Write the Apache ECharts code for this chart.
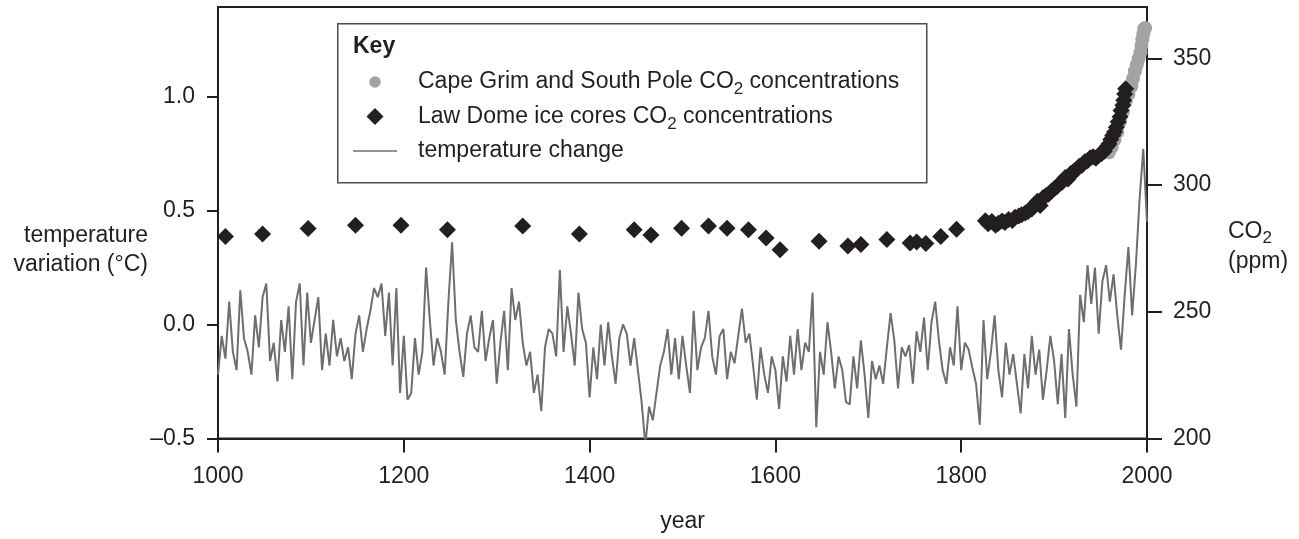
<!DOCTYPE html>
<html>
<head>
<meta charset="utf-8">
<title>Temperature variation and CO2, 1000-2000</title>
<script src="https://cdn.jsdelivr.net/npm/echarts@6/dist/echarts.min.js"></script>
<style>
  html, body { margin: 0; padding: 0; background: #fff; }
  #chart { width: 1299px; height: 539px; }
</style>
</head>
<body>
<div id="chart"></div>
<script>
// temperature change (°C), one reading every 4 years from 1000 to 2000
var tempStart = 1000
var tempStep = 4
var tempValues = [
  -0.22, -0.05, -0.15, 0.10, -0.12, -0.20, 0.15, -0.06, -0.12, -0.22, // 1000
  0.04, -0.10, 0.12, 0.18, -0.16, -0.08, -0.25, 0.02, -0.12, 0.08, // 1040
  -0.24, 0.10, 0.18, -0.18, 0.14, -0.08, 0.02, 0.12, -0.20, -0.04, // 1080
  -0.18, 0.02, -0.14, -0.06, -0.16, -0.10, -0.24, -0.04, 0.04, -0.12, // 1120
  -0.02, 0.06, 0.16, 0.12, 0.18, -0.05, 0.14, -0.18, 0.16, -0.30, // 1160
  -0.05, -0.33, -0.30, -0.06, -0.22, -0.12, 0.25, 0.02, -0.18, -0.06, // 1200
  -0.12, -0.22, 0.10, 0.36, 0.02, -0.12, -0.23, -0.04, 0.04, -0.10, // 1240
  -0.12, 0.06, -0.16, -0.06, 0.02, -0.26, -0.08, 0.06, -0.20, 0.16, // 1280
  0.02, 0.10, -0.08, -0.18, -0.12, -0.30, -0.22, -0.38, -0.10, -0.02, // 1320
  -0.04, -0.14, 0.24, -0.12, 0.08, -0.04, -0.18, 0.14, -0.02, -0.08, // 1360
  -0.32, -0.10, -0.24, 0.00, -0.18, 0.01, -0.14, -0.26, -0.06, 0.00, // 1400
  -0.04, -0.18, -0.06, -0.20, -0.34, -0.53, -0.36, -0.42, -0.30, -0.18, // 1440
  -0.12, -0.02, -0.22, -0.06, -0.24, -0.05, -0.18, -0.30, 0.06, -0.20, // 1480
  -0.10, -0.06, 0.06, -0.14, -0.22, -0.05, -0.02, -0.24, -0.12, -0.17, // 1520
  -0.05, 0.07, -0.08, -0.04, -0.18, -0.33, -0.10, -0.22, -0.30, -0.14, // 1560
  -0.20, -0.37, -0.14, -0.25, -0.05, -0.22, -0.02, -0.20, -0.08, -0.12, // 1600
  0.14, -0.45, -0.12, -0.22, 0.01, -0.12, -0.28, -0.14, -0.20, -0.34, // 1640
  -0.35, -0.14, -0.28, -0.07, -0.22, -0.41, -0.16, -0.24, -0.18, -0.26, // 1680
  -0.10, 0.05, -0.07, -0.28, -0.10, -0.14, -0.09, -0.26, -0.03, -0.12, // 1720
  0.03, -0.20, 0.01, 0.10, -0.07, -0.20, -0.26, -0.10, -0.18, 0.08, // 1760
  -0.20, -0.08, -0.11, -0.19, -0.26, -0.44, 0.02, -0.24, -0.12, 0.04, // 1800
  -0.20, -0.32, -0.08, -0.22, -0.13, -0.26, -0.39, -0.13, -0.28, -0.05, // 1840
  -0.22, -0.11, -0.33, -0.20, -0.05, -0.16, -0.35, -0.13, -0.41, -0.02, // 1880
  -0.22, -0.36, 0.13, 0.01, 0.26, 0.09, 0.25, -0.04, 0.19, 0.26, // 1920
  0.10, 0.22, 0.04, -0.11, 0.13, 0.34, 0.04, 0.26, 0.55, 0.77, // 1960
  0.45 // 2000
]

// Law Dome ice cores CO2 (ppm): [year, ppm]
var lawDome = [
  [1008, 279.7], [1048, 280.7], [1097, 282.9], [1148, 284.2], [1197, 284.2],
  [1247, 282.4], [1328, 283.9], [1389, 280.7], [1448, 282.4], [1466, 280.3],
  [1499, 283.0], [1528, 283.9], [1548, 283.0], [1571, 282.4], [1590, 279.1],
  [1605, 274.5], [1647, 277.8], [1678, 276.0], [1692, 276.6], [1720, 278.5],
  [1745, 277.2], [1752, 277.6], [1762, 277.0], [1778, 279.7], [1795, 282.6],
  [1826, 285.9], [1829, 284.8], [1833, 285.6], [1837, 284.2], [1840, 285.0],
  [1844, 285.8], [1847, 285.2], [1851, 286.4], [1855, 286.0], [1858, 287.3],
  [1862, 287.8], [1865, 288.3], [1869, 289.0], [1872, 289.6], [1876, 290.6],
  [1879, 292.4], [1882, 293.6], [1885, 292.0], [1888, 295.0], [1891, 295.8],
  [1894, 296.4], [1897, 297.6], [1900, 298.6], [1903, 299.4], [1906, 300.6],
  [1909, 301.2], [1912, 303.0], [1915, 302.4], [1918, 304.6], [1921, 305.4],
  [1924, 306.0], [1927, 307.4], [1930, 307.8], [1933, 309.2], [1936, 309.6],
  [1939, 310.8], [1942, 311.2], [1945, 310.6], [1948, 311.8], [1951, 312.4],
  [1954, 313.4], [1957, 315.2], [1959, 316.2], [1961, 318.0], [1963, 319.6],
  [1965, 321.0], [1967, 322.8], [1969, 325.0], [1971, 327.0], [1972, 329.5],
  [1974, 331.5], [1975, 333.5], [1976, 336.0], [1977, 338.0]
]

// Cape Grim and South Pole CO2 (ppm): [year, ppm]
var capeGrim = [
  [1959, 313.0], [1962, 315.0], [1965, 318.0], [1968, 321.0], [1971, 325.0],
  [1974, 329.0], [1977, 333.0], [1980, 336.0], [1983, 339.0], [1985, 342.0],
  [1987, 345.0], [1989, 347.5], [1991, 350.0], [1993, 352.5], [1994, 355.0],
  [1995, 357.5], [1996, 359.5], [1997, 361.5], [1998, 362.0]
]

var yearTicks = [1000, 1200, 1400, 1600, 1800, 2000]
var tempTicks = [-0.5, 0, 0.5, 1.0]
var co2Ticks = [200, 250, 300, 350]

var capeName = 'Cape Grim and South Pole CO2 concentrations'
var lawName = 'Law Dome ice cores CO2 concentrations'
var tempName = 'temperature change'

var tempData = tempValues.map(function (v, i) {
  return [tempStart + i * tempStep, v]
})

var FONT = '"Liberation Sans", Arial, Helvetica, sans-serif'
var INK = '#231f20'
var GREY_LINE = '#6d6e71'
var GREY_DOT = '#a2a3a5'

var axisLine = { show: true, onZero: false, lineStyle: { color: INK, width: 2 } }
var labelFont = { fontSize: 23, color: INK, fontFamily: FONT }

var chart = echarts.init(document.getElementById('chart'))
chart.setOption({
  animation: false,
  textStyle: { fontFamily: FONT },
  grid: {
    show: true,
    left: 218,
    right: 152,
    top: 7,
    bottom: 100.5,
    borderColor: INK,
    borderWidth: 2
  },
  xAxis: {
    type: 'value',
    min: 1000,
    max: 2000,
    interval: 200,
    name: 'year',
    nameLocation: 'middle',
    nameGap: 72,
    nameTextStyle: labelFont,
    axisLine: axisLine,
    axisTick: { length: 14, lineStyle: { color: INK, width: 2 }, customValues: yearTicks },
    axisLabel: Object.assign({
      margin: 27,
      customValues: yearTicks,
      formatter: function (v) { return String(v) }
    }, labelFont),
    splitLine: { show: false }
  },
  yAxis: [
    {
      type: 'value',
      position: 'left',
      min: -0.5,
      max: 1.3925,
      axisLine: axisLine,
      axisTick: { show: true, length: 11, lineStyle: { color: INK, width: 2 }, customValues: tempTicks },
      axisLabel: Object.assign({
        margin: 23,
        customValues: tempTicks,
        formatter: function (v) { return v.toFixed(1).replace('-', '\u2013') }
      }, labelFont),
      splitLine: { show: false }
    },
    {
      type: 'value',
      position: 'right',
      min: 200,
      max: 370.3,
      axisLine: axisLine,
      axisTick: { show: true, length: 15, lineStyle: { color: INK, width: 2 }, customValues: co2Ticks },
      axisLabel: Object.assign({ margin: 26, customValues: co2Ticks }, labelFont),
      splitLine: { show: false }
    }
  ],
  legend: {
    orient: 'vertical',
    left: 353,
    top: 66,
    padding: 0,
    itemGap: 2.5,
    itemWidth: 44,
    itemHeight: 17,
    z: 10,
    selectedMode: false,
    data: [
      { name: capeName, icon: 'circle', itemStyle: { color: GREY_DOT, opacity: 1, borderColor: '#fff', borderWidth: 5.5 } },
      { name: lawName, icon: 'path://M0,-8L8,0L0,8L-8,0Z', itemStyle: { color: INK, opacity: 1, borderWidth: 0 } },
      { name: tempName, icon: 'path://M0,0H44V1.6H0Z', itemStyle: { color: GREY_LINE, opacity: 1, borderWidth: 0 } }
    ],
    formatter: function (name) { return name.replace('CO2', 'CO{sub|2}') },
    textStyle: {
      fontSize: 23,
      color: INK,
      fontFamily: FONT,
      lineHeight: 32,
      padding: [0, 0, 0, 16],
      rich: {
        sub: { fontSize: 17, lineHeight: 16, verticalAlign: 'bottom', color: INK, fontFamily: FONT }
      }
    }
  },
  graphic: [
    {
      type: 'rect',
      left: 337,
      top: 23,
      z: 3,
      shape: { width: 589, height: 159 },
      style: { fill: '#fff', stroke: '#4d4d4f', lineWidth: 1.5 }
    },
    {
      type: 'text',
      x: 353,
      y: 47,
      z: 11,
      style: { text: 'Key', font: 'bold 23px ' + FONT, fill: INK, verticalAlign: 'middle' }
    },
    {
      type: 'text',
      x: 148,
      y: 250,
      z: 11,
      style: {
        text: 'temperature\nvariation (°C)',
        font: '23px ' + FONT,
        fill: INK,
        align: 'right',
        verticalAlign: 'middle',
        lineHeight: 29
      }
    },
    {
      type: 'text',
      x: 1228,
      y: 247,
      z: 11,
      style: {
        text: 'CO{sub|2}\n(ppm)',
        fontSize: 23,
        fontFamily: FONT,
        fill: INK,
        align: 'left',
        verticalAlign: 'middle',
        lineHeight: 30,
        rich: {
          sub: { fontSize: 17, lineHeight: 16, verticalAlign: 'bottom', fontFamily: FONT, fill: INK }
        }
      }
    }
  ],
  series: [
    {
      name: capeName,
      type: 'scatter',
      yAxisIndex: 1,
      symbol: 'circle',
      symbolSize: 14,
      z: 2,
      itemStyle: { color: GREY_DOT, opacity: 1 },
      data: capeGrim
    },
    {
      name: lawName,
      type: 'scatter',
      yAxisIndex: 1,
      symbol: 'diamond',
      symbolSize: 17,
      z: 3,
      itemStyle: { color: INK, opacity: 1 },
      data: lawDome
    },
    {
      name: tempName,
      type: 'line',
      yAxisIndex: 0,
      symbol: 'none',
      z: 1,
      itemStyle: { color: GREY_LINE },
      lineStyle: { color: GREY_LINE, width: 2 },
      data: tempData
    }
  ]
})
</script>
</body>
</html>
